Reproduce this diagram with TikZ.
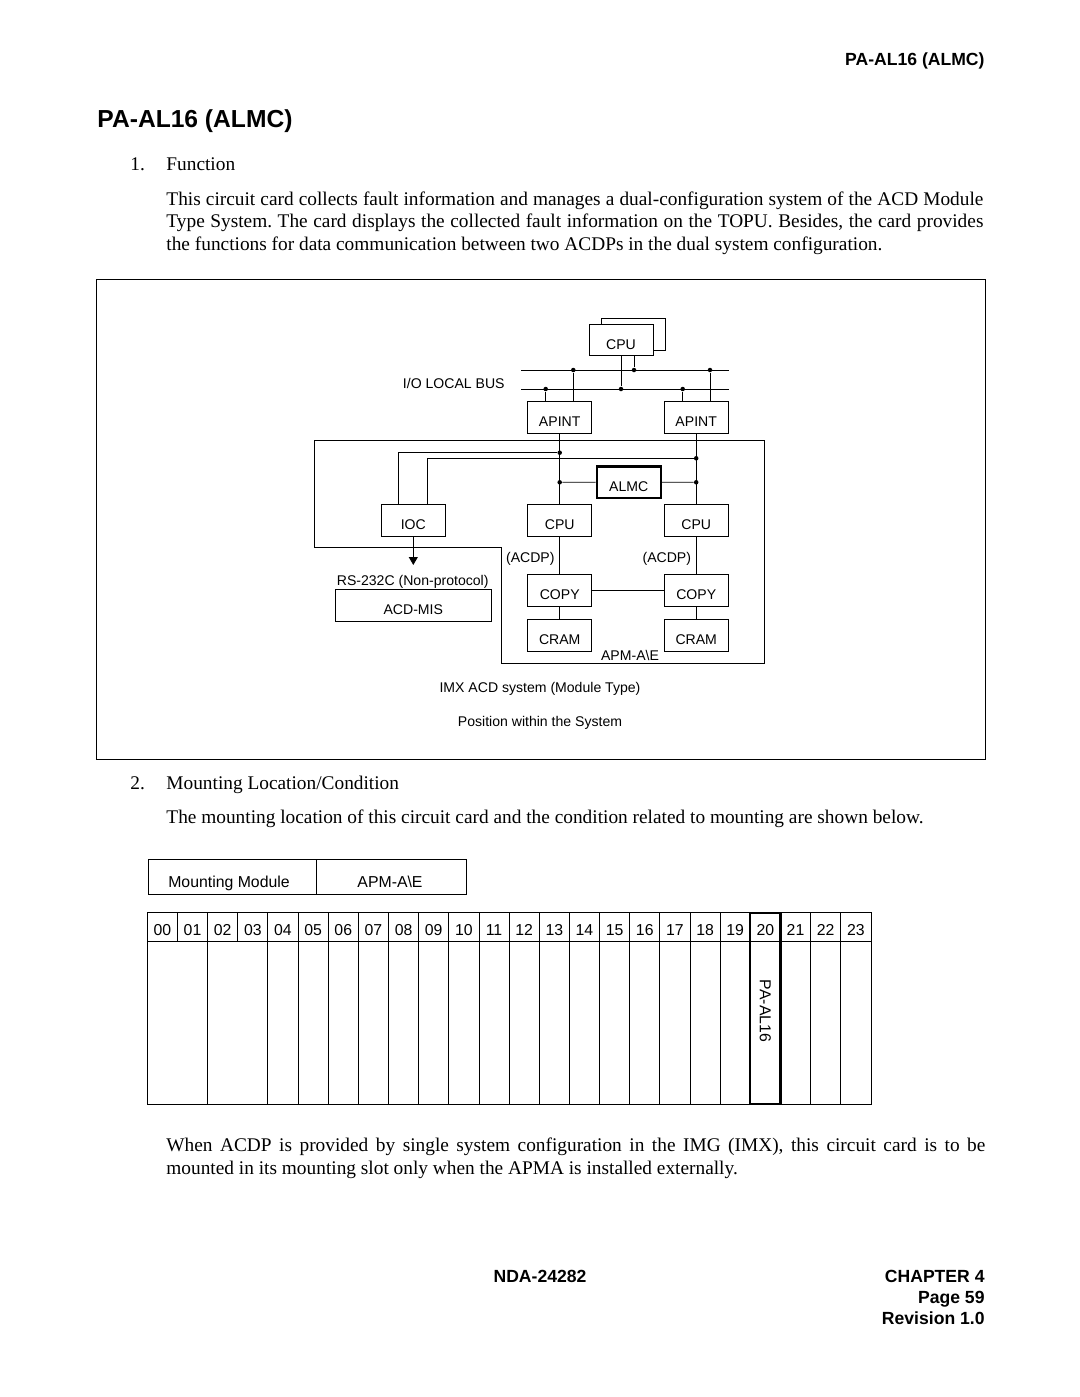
\documentclass[tikz,border=0pt]{standalone}
\usepackage{fontspec}
\setmainfont{Liberation Serif}
\newfontfamily\helv{Liberation Sans}
\usetikzlibrary{arrows.meta}
\def\px{0.5688pt}
\newdimen\pxu \pxu=0.5688pt
\frenchspacing

\begin{document}
\begin{tikzpicture}[
    x=\px, y=-\px, line width=0.5pt,
    unit/.style={rectangle, draw=black, fill=white, minimum width=64*\px,
        minimum height=31.5*\px, inner sep=0pt, text height=10.5pt, text depth=0pt,
        font=\helv\fontsize{8}{9.6}\selectfont},
    junction/.style={circle, fill=black, inner sep=0pt, minimum size=4.5*\px},
    note/.style={inner sep=0pt, font=\helv\fontsize{8}{9.6}\selectfont},
    body/.style={inner sep=0pt, anchor=base west, font=\fontsize{11}{12.8}\selectfont},
    head/.style={inner sep=0pt, font=\helv\bfseries\fontsize{10}{12}\selectfont},
    slot/.style={inner sep=0pt, font=\helv\fontsize{9}{10.8}\selectfont}
]
\useasboundingbox (0,0) rectangle (1080,1397);

% page head
\node (Head00) [head, anchor=base east] at (985,65) {PA-AL16 (ALMC)};
\node (Title00) [inner sep=0pt, anchor=base west, font=\helv\bfseries\fontsize{14}{16.8}\selectfont]
    at (97,127) {PA-AL16 (ALMC)};
\node (Num01) [body] at (130,170) {1.};
\node (Sec01) [body] at (166,170) {Function};
\node (Par01) [body] at (166,205) {\makebox[817\pxu][s]{This circuit card collects fault information and manages a dual-configuration system of the ACD Module}};
\node (Par02) [body] at (166,227) {\makebox[817\pxu][s]{Type System. The card displays the collected fault information on the TOPU. Besides, the card provides}};
\node (Par03) [body] at (166,250) {the functions for data communication between two ACDPs in the dual system configuration.};

% block diagram
\draw (96,279) rectangle (985,759);
\draw (314,440) -- (764,440) -- (764,663) -- (501,663) -- (501,547) -- (314,547) -- cycle;

\node (Cpu00b) [unit] at (633.7,334.2) {};
\node (Cpu00) [unit] at (621,340) {CPU};
\node (Apint01) [unit] at (559.7,417.5) {APINT};
\node (Apint02) [unit] at (696.2,417.5) {APINT};
\node (Almc00) [unit, line width=1.2pt] at (628.7,482.2) {ALMC};
\node (Ioc00) [unit] at (413.3,520.5) {IOC};
\node (Cpu01) [unit] at (559.7,520.5) {CPU};
\node (Cpu02) [unit] at (696.2,520.5) {CPU};
\node (Copy01) [unit] at (559.7,590.2) {COPY};
\node (Copy02) [unit] at (696.2,590.2) {COPY};
\node (Cram01) [unit] at (559.7,635.2) {CRAM};
\node (Cram02) [unit] at (696.2,635.2) {CRAM};
\node (Mis00) [unit, minimum width=156.7*\px] at (413.3,605.2) {ACD-MIS};

\coordinate (BusU1) at (521,370);
\coordinate (BusU2) at (729,370);
\coordinate (BusL1) at (521,389);
\coordinate (BusL2) at (729,389);
\draw (BusU1) -- (BusU2);
\draw (BusL1) -- (BusL2);
\node (BusTxt) [note, anchor=east] at (505,383) {I/O LOCAL BUS};

\node (TapL0) [junction] at (621,389) {};
\node (TapU0) [junction] at (634,370) {};
\node (TapL1) [junction] at (545.7,389) {};
\node (TapU1) [junction] at (573.3,370) {};
\node (TapL2) [junction] at (682.7,389) {};
\node (TapU2) [junction] at (710,370) {};
\draw (TapL0 |- Cpu00.south) -- (TapL0);
\draw (TapU0 |- Cpu00.south) -- (TapU0);
\draw (TapL1 |- Apint01.north) -- (TapL1);
\draw (TapU1 |- Apint01.north) -- (TapU1);
\draw (TapL2 |- Apint02.north) -- (TapL2);
\draw (TapU2 |- Apint02.north) -- (TapU2);

\node (JoinA) [junction] at (559.7,452.7) {};
\node (JoinB) [junction] at (696.2,458.3) {};
\node (JoinC) [junction] at (559.7,482.3) {};
\node (JoinD) [junction] at (696.2,482.3) {};
\draw (Apint01) -- (Cpu01);
\draw (Apint02) -- (Cpu02);
\draw ([xshift=-15*\px]Ioc00.north) |- (JoinA);
\draw ([xshift=14.4*\px]Ioc00.north) |- (JoinB);
\draw (JoinC) -- (Almc00);
\draw (Almc00) -- (JoinD);
\draw (Cpu01) -- (Copy01) -- (Cram01);
\draw (Cpu02) -- (Copy02) -- (Cram02);
\draw (Copy01) -- (Copy02);

\coordinate (ArrEnd) at (413.3,565);
\draw [-{Triangle[length=8*\px, width=9*\px]}] (Ioc00) -- (ArrEnd);
\node (RsTxt) [note] at (412.7,581.5) {RS-232C (Non-protocol)};
\node (Acdp01) [note, anchor=east] at (555,559) {(ACDP)};
\node (Acdp02) [note, anchor=east] at (691.5,559) {(ACDP)};
\node (ApmTxt) [note] at (630,655.5) {APM-A\textbackslash E};
\node (Cap01) [note] at (540,689) {IMX ACD system (Module Type)};
\node (Cap02) [note] at (540,723) {Position within the System};

% mounting
\node (Num02) [body] at (130,789) {2.};
\node (Sec02) [body] at (166,789) {Mounting Location/Condition};
\node (Par04) [body] at (166,823) {The mounting location of this circuit card and the condition related to mounting are shown below.};

\draw (148,859) rectangle (466,894);
\draw (316,859) -- (316,894);
\node (ModTxt) [slot, anchor=base] at (229,887) {Mounting Module};
\node (ModVal) [slot, anchor=base] at (390,887) {APM-A\textbackslash E};

\draw (147.3,912.7) rectangle (871,1104.3);
\draw (147.3,941) -- (871,941);
\foreach \i in {1,...,23}{
    \pgfmathsetmacro\xa{147.3+30.15*\i}
    \draw (\xa,912.7) -- (\xa,941);
}
\foreach \i in {2,4,5,6,7,8,9,10,11,12,13,14,15,16,17,18,19,20,21,22,23}{
    \pgfmathsetmacro\xa{147.3+30.15*\i}
    \draw (\xa,941) -- (\xa,1104.3);
}
\foreach \i in {0,...,23}{
    \pgfmathsetmacro\xc{147.3+30.15*\i+15.07}
    \node (Slot\i) [slot, anchor=base] at (\xc,935.5) {\ifnum\i<10 0\fi\i};
}
\draw [line width=1.2pt] (750.3,912.7) rectangle (780.45,1104.3);
\node (Card20) [slot, rotate=-90] at (765.4,1011) {PA-AL16};

\node (Par05) [body] at (166,1151) {\makebox[819\pxu][s]{When ACDP is provided by single system configuration in the IMG (IMX), this circuit card is to be}};
\node (Par06) [body] at (166,1174) {mounted in its mounting slot only when the APMA is installed externally.};

% page foot
\node (Foot01) [head, anchor=base] at (540,1282) {NDA-24282};
\node (Foot02) [head, anchor=base east] at (985,1282) {CHAPTER 4};
\node (Foot03) [head, anchor=base east] at (985,1303) {Page 59};
\node (Foot04) [head, anchor=base east] at (985,1324) {Revision 1.0};
\end{tikzpicture}
\end{document}
